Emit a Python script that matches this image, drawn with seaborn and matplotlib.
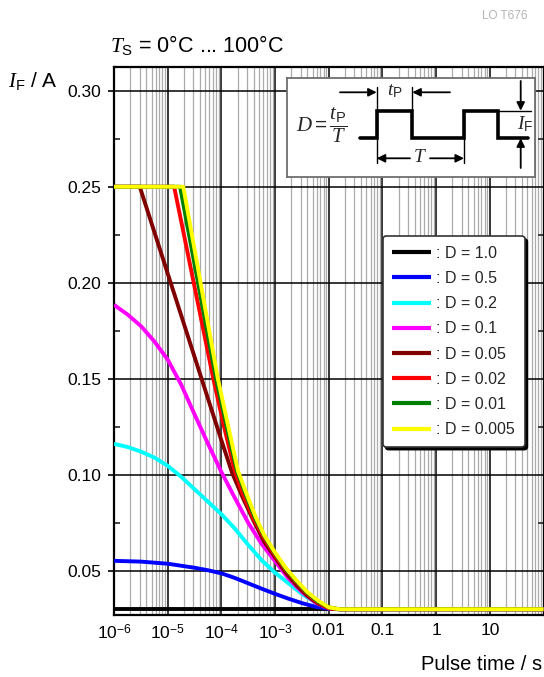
import matplotlib
matplotlib.use("Agg")
import matplotlib.pyplot as plt
import matplotlib.ticker as mticker
import numpy as np
import pandas as pd
import seaborn as sns

# pulse time as log10(t / s), forward current in A
duty_labels = [": D = 1.0", ": D = 0.5", ": D = 0.2", ": D = 0.1",
               ": D = 0.05", ": D = 0.02", ": D = 0.01", ": D = 0.005"]
duty_colors = ["black", "#0000ff", "#00ffff", "#ff00ff",
               "#800000", "#ff0000", "#008000", "#ffff00"]

logt_d100 = [-6, 2]
i_d100 = [0.030, 0.030]

logt_d50 = [-6, -5.5, -5.0, -4.5, -4.25, -4.0, -3.75, -3.5, -3.25, -3.0, -2.75, -2.5, -2.25, -2.0,
            -1.8, 2]
i_d50 = [0.0552, 0.0548, 0.0537, 0.0516, 0.0503, 0.0487, 0.0463, 0.0435, 0.0407, 0.038, 0.0355,
         0.0332, 0.0313, 0.0302, 0.030, 0.030]

logt_d20 = [-6, -5.75, -5.5, -5.25, -5.0, -4.75, -4.5, -4.25, -4.0, -3.75, -3.5, -3.25, -3.0,
            -2.75, -2.5, -2.25, -2.0, -1.8, 2]
i_d20 = [0.1161, 0.1145, 0.1121, 0.109, 0.1047, 0.099, 0.0925, 0.086, 0.0795, 0.072, 0.0635,
         0.0555, 0.049, 0.0435, 0.038, 0.0335, 0.0305, 0.030, 0.030]

logt_d10 = [-6, -5.75, -5.5, -5.25, -5.0, -4.75, -4.5, -4.25, -4.0, -3.75, -3.5, -3.25, -3.0,
            -2.75, -2.5, -2.25, -2.0, -1.8, 2]
i_d10 = [0.1885, 0.1835, 0.1775, 0.1695, 0.160, 0.147, 0.1315, 0.1162, 0.1015, 0.088, 0.075,
         0.064, 0.055, 0.046, 0.039, 0.0335, 0.0305, 0.030, 0.030]

logt_d05 = [-6, -5.52, -4.0, -3.8, -3.6, -3.4, -3.2, -3.0, -2.8, -2.6, -2.4, -2.2, -2.0, -1.8, 2]
i_d05 = [0.25, 0.25, 0.118, 0.101, 0.088, 0.076, 0.065, 0.057, 0.049, 0.0425, 0.037, 0.033,
         0.0305, 0.030, 0.030]

logt_d02 = [-6, -4.88, -4.15, -3.95, -3.75, -3.6, -3.4, -3.2, -3.0, -2.8, -2.6, -2.4, -2.2, -2.0,
            -1.8, 2]
i_d02 = [0.25, 0.25, 0.150, 0.125, 0.102, 0.090, 0.077, 0.067, 0.058, 0.0505, 0.044, 0.038,
         0.0335, 0.0305, 0.030, 0.030]

logt_d01 = [-6, -4.77, -4.10, -3.90, -3.71, -3.55, -3.38, -3.2, -3.0, -2.8, -2.6, -2.4, -2.2, -2.0,
            -1.8, 2]
i_d01 = [0.25, 0.25, 0.150, 0.125, 0.102, 0.090, 0.078, 0.068, 0.059, 0.051, 0.0445, 0.0385,
         0.034, 0.031, 0.030, 0.030]

logt_d005 = [-6, -4.71, -4.065, -3.87, -3.69, -3.53, -3.36, -3.2, -3.0, -2.8, -2.6, -2.4, -2.2,
             -2.0, -1.8, 2]
i_d005 = [0.25, 0.25, 0.150, 0.125, 0.102, 0.090, 0.078, 0.0685, 0.0595, 0.0515, 0.045, 0.039,
          0.0345, 0.031, 0.030, 0.030]

x_tick_values = [1e-6, 1e-5, 1e-4, 1e-3, 1e-2, 1e-1, 1, 10]
x_tick_labels = ["$10^{-6}$", "$10^{-5}$", "$10^{-4}$", "$10^{-3}$", "0.01", "0.1", "1", "10"]
y_tick_values = [0.05, 0.10, 0.15, 0.20, 0.25, 0.30]

sns.set_theme(style="white")
plt.rcParams["font.family"] = ["Liberation Sans", "DejaVu Sans"]
plt.rcParams["mathtext.fontset"] = "custom"
plt.rcParams["mathtext.rm"] = "Liberation Sans"
plt.rcParams["mathtext.sf"] = "Liberation Sans"
plt.rcParams["mathtext.it"] = "Liberation Serif:italic"

series = [(logt_d100, i_d100), (logt_d50, i_d50), (logt_d20, i_d20), (logt_d10, i_d10),
          (logt_d05, i_d05), (logt_d02, i_d02), (logt_d01, i_d01), (logt_d005, i_d005)]
frames = []
for lab, (lt, cur) in zip(duty_labels, series):
    frames.append(pd.DataFrame({"t": 10.0 ** np.array(lt), "I": cur, "D": lab}))
df = pd.concat(frames, ignore_index=True)

W, H = 544, 677
fig = plt.figure(figsize=(W / 100, H / 100), dpi=100)
ax = fig.add_axes([114 / W, 1 - 615 / H, (543.5 - 114) / W, (615 - 66.7) / H])

sns.lineplot(data=df, x="t", y="I", hue="D", hue_order=duty_labels,
             palette=dict(zip(duty_labels, duty_colors)), linewidth=2.8, ax=ax,
             estimator=None, zorder=3, solid_joinstyle="round", solid_capstyle="butt")

ax.set_xscale("log")
ax.set_xlim(1e-6, 100)
ax.set_ylim(0.027, 0.3125)
ax.set_xlabel("")
ax.set_ylabel("")

ax.xaxis.set_major_locator(mticker.FixedLocator(x_tick_values + [100]))
ax.xaxis.set_major_formatter(mticker.FixedFormatter(x_tick_labels + [""]))
ax.xaxis.set_minor_locator(mticker.LogLocator(base=10, subs=np.arange(2, 10), numticks=20))
ax.xaxis.set_minor_formatter(mticker.NullFormatter())
ax.yaxis.set_major_locator(mticker.FixedLocator(y_tick_values))
ax.yaxis.set_major_formatter(mticker.FormatStrFormatter("%.2f"))
ax.yaxis.set_minor_locator(mticker.MultipleLocator(0.025))

ax.xaxis.grid(True, which="major", color="black", lw=1.1)
ax.xaxis.grid(True, which="minor", color="#ababab", lw=0.9)
ax.yaxis.grid(True, which="major", color="black", lw=1.1)
ax.yaxis.grid(False, which="minor")

ax.tick_params(axis="x", which="both", length=0, pad=6, labelsize=12.5, colors="black")
ax.tick_params(axis="y", which="major", direction="out", length=4, width=1.2, pad=5,
               labelsize=12.5, colors="black", left=True, right=False)
ax.tick_params(axis="y", which="minor", direction="in", length=4, width=1.2,
               left=True, right=True)
for sp in ax.spines.values():
    sp.set_visible(True)
    sp.set_color("black")
    sp.set_linewidth(1.6)

old = ax.get_legend()
handles = old.legend_handles
labels = [t.get_text() for t in old.texts]
old.remove()
for h in handles:
    h.set_linewidth(3)
leg = ax.legend(handles, labels, loc="upper right", bbox_to_anchor=(0.956, 0.691),
                borderaxespad=0, fontsize=11.5, frameon=True, fancybox=True,
                shadow={"color": "black", "alpha": 1}, framealpha=1,
                edgecolor="#333333", handlelength=2.45, handletextpad=0.3,
                labelspacing=0.64, borderpad=0.6)
leg.get_frame().set_linewidth(1.2)
leg.set_zorder(10)

# pulse diagram inset, coordinates in image pixels
ins = fig.add_axes([287 / W, 1 - 177 / H, 248 / W, 99 / H])
ins.set_xlim(287, 535)
ins.set_ylim(177, 78)
ins.set_xticks([])
ins.set_yticks([])
ins.set_facecolor("white")
for sp in ins.spines.values():
    sp.set_color("#6e6e6e")
    sp.set_linewidth(1.3)
lo, hi = 138.3, 110.7
ins.plot([360, 376.7, 376.7, 412.3, 412.3, 464, 464, 498.3, 498.3, 528.3],
         [lo, lo, hi, hi, lo, lo, hi, hi, lo, lo], color="black", lw=2.6,
         solid_joinstyle="miter")
ins.plot([376.7, 376.7], [86.7, 163.3], color="black", lw=1)
ins.plot([412.3, 412.3], [86.7, hi], color="black", lw=1)
ins.plot([464, 464], [hi, 163.3], color="black", lw=1)
ins.plot([498.3, 531], [hi, hi], color="black", lw=1)
arrow = dict(arrowstyle="-|>", color="black", lw=1.3, mutation_scale=12, shrinkA=0, shrinkB=0)
ins.annotate("", xy=(376.7, 92.3), xytext=(340, 92.3), arrowprops=arrow)
ins.annotate("", xy=(412.3, 92.3), xytext=(450, 92.3), arrowprops=arrow)
ins.annotate("", xy=(376.7, 158.3), xytext=(410, 158.3), arrowprops=arrow)
ins.annotate("", xy=(464, 158.3), xytext=(430, 158.3), arrowprops=arrow)
ins.annotate("", xy=(520.7, hi), xytext=(520.7, 81), arrowprops=arrow)
ins.annotate("", xy=(520.7, lo), xytext=(520.7, 168), arrowprops=arrow)
ins.text(395, 91, r"$t_\mathrm{P}$", fontsize=14, ha="center", va="center")
ins.text(420, 157.5, r"$T$", fontsize=14, ha="center", va="center")
ins.text(525, 124.5, r"$I_\mathrm{F}$", fontsize=14, ha="center", va="center")
ins.text(322, 125, r"$D = \dfrac{t_\mathrm{P}}{T}$", fontsize=15, ha="center", va="center")

fig.text(505 / W, 1 - 16 / H, "LO T676", fontsize=8.5, color="#b4b4b4", ha="center", va="center")
fig.text(110 / W, 1 - 45 / H, r"$T_\mathrm{S}$ = 0°C ... 100°C", fontsize=15.5,
         ha="left", va="center", color="black")
fig.text(8 / W, 1 - 81 / H, r"$I_\mathrm{F}$ / A", fontsize=15, ha="left", va="center",
         color="black")
fig.text(542 / W, 1 - 664 / H, "Pulse time / s", fontsize=14.5,
         family=["Liberation Sans Narrow", "Liberation Sans"], ha="right", va="center",
         color="black")

fig.savefig("out.png", dpi=100)
